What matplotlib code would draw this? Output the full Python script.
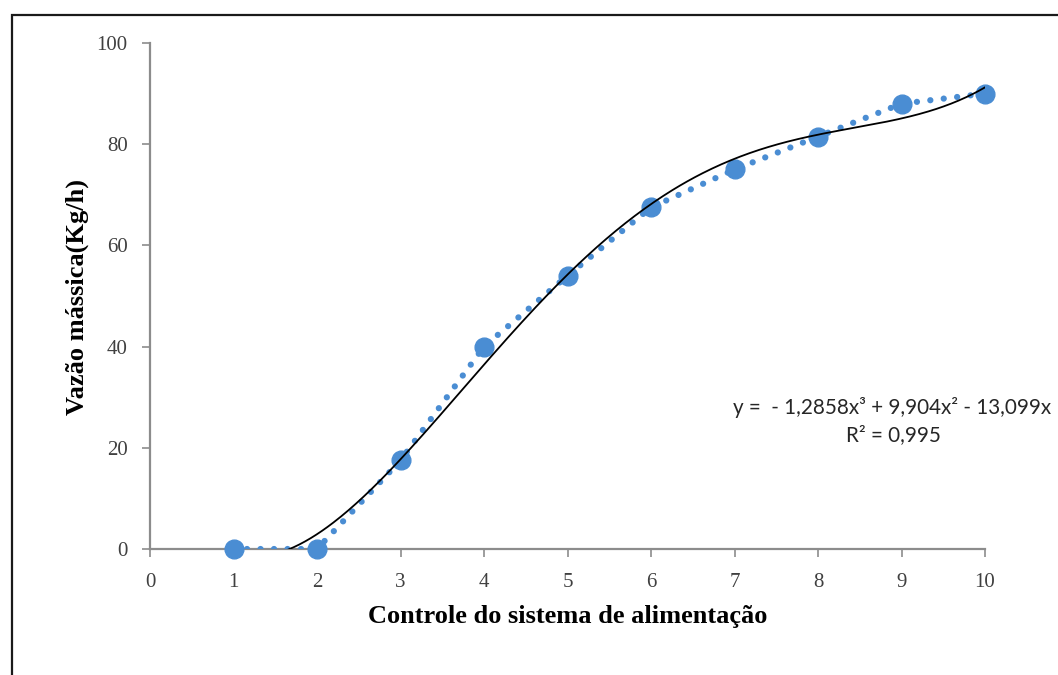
import numpy as np
import matplotlib
matplotlib.use("Agg")
import matplotlib.pyplot as plt
from matplotlib.patches import Rectangle

# Data
controle = [1, 2, 3, 4, 5, 6, 7, 8, 9, 10]
vazao = [0, 0, 17.5, 40, 54, 67.5, 75, 81.5, 88, 90]
x_ticks = [0, 1, 2, 3, 4, 5, 6, 7, 8, 9, 10]
y_ticks = [0, 20, 40, 60, 80, 100]
eq_text = "y =  - 1,2858x³ + 9,904x² - 13,099x"
r2_text = "R² = 0,995"

BLUE = "#4A8DD3"
GRAY = "#8C8C8C"
TICKC = "#404040"

fig = plt.figure(figsize=(10.58, 6.75), dpi=100)
fig.patch.set_facecolor("white")

# outer frame (left and top visible, clipped at right/bottom)
fig.patches.append(Rectangle((12 / 1058, -0.05), 1.2, 1 - 15 / 675 + 0.05,
                             transform=fig.transFigure, fill=False,
                             edgecolor="#1a1a1a", linewidth=1.6))

ax = fig.add_axes([150 / 1058, 1 - 549 / 675, (985 - 150) / 1058, (549 - 43) / 675])

# dotted series line with markers
ax.plot(controle, vazao, color=BLUE, linewidth=4.5,
        dashes=(0.01, 2.15), dash_capstyle="round", zorder=3)
ax.plot(controle, vazao, linestyle="none", marker="o", markersize=13.5,
        markerfacecolor=BLUE, markeredgecolor=BLUE, zorder=4, clip_on=False)

# polynomial trendline fitted to the series
coef = np.polyfit(controle, vazao, 4)
xs = np.linspace(1.0, 10.0, 400)
ax.plot(xs, np.polyval(coef, xs), color="black", linewidth=1.3, zorder=5)

ax.set_xlim(0, 10)
ax.set_ylim(0, 100)
ax.set_xticks(x_ticks)
ax.set_yticks(y_ticks)
serif = "Liberation Serif"
ax.set_xticklabels([str(t) for t in x_ticks], fontfamily=serif, fontsize=15, color=TICKC)
ax.set_yticklabels([str(t) for t in y_ticks], fontfamily=serif, fontsize=15, color=TICKC)
ax.tick_params(axis="both", direction="out", length=6, width=1.2, color=GRAY)
ax.tick_params(axis="x", pad=11)
ax.tick_params(axis="y", pad=10)
for s in ["top", "right"]:
    ax.spines[s].set_visible(False)
for s in ["left", "bottom"]:
    ax.spines[s].set_color(GRAY)
    ax.spines[s].set_linewidth(1.6)

fig.text(568 / 1058, 1 - 616 / 675, "Controle do sistema de alimentação",
         fontfamily=serif, fontweight="bold", fontsize=19, ha="center", va="center")
fig.text(77 / 1058, 1 - 297 / 675, "Vazão mássica(Kg/h)",
         fontfamily=serif, fontweight="bold", fontsize=19, ha="center", va="center",
         rotation=90)

fig.text(733 / 1058, 1 - 408 / 675, eq_text, fontfamily="Lato",
         fontsize=14.9, ha="left", va="center", color="#262626")
fig.text(893 / 1058, 1 - 435 / 675, r2_text, fontfamily="Lato",
         fontsize=14.9, ha="center", va="center", color="#262626")

fig.savefig("out.png", dpi=100, facecolor="white")
